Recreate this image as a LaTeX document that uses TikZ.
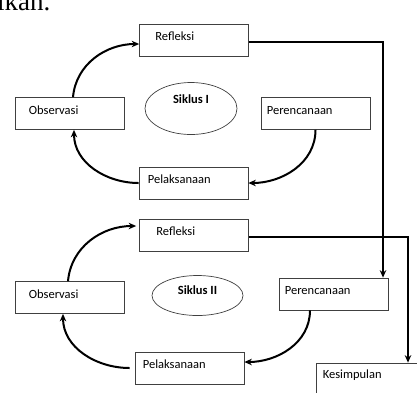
\documentclass[tikz,border=0pt]{standalone}
\usepackage{fontspec}
\setmainfont{Carlito}
\newfontfamily\serifpart{Liberation Serif}
\usetikzlibrary{positioning,shapes.geometric,arrows.meta}

\begin{document}
\begin{tikzpicture}[x=1pt, y=-1pt, font=\fontsize{12.5}{14}\selectfont]
    % Define styles
    \tikzstyle{box}=[rectangle, draw=black!75, line width=0.7pt, minimum width=109pt, minimum height=32pt, inner sep=0pt]
    \tikzstyle{txt}=[anchor=west, inner sep=0pt, text height=8pt, text depth=2pt, yshift=2.5pt]
    \tikzstyle{oval}=[ellipse, draw=black!75, line width=0.7pt, inner sep=0pt]
    \tikzstyle{arrow}=[-{Stealth[length=7.5pt,width=6.5pt]}, line width=2pt]

    \useasboundingbox (0,0) rectangle (417,392);
    \clip (0,0) rectangle (417,392);

    % Cut-off text above
    \node[font=\serifpart\fontsize{27}{30}\selectfont, anchor=base west, inner sep=0pt] (frag) at (-3,10) {ikan.};

    % Siklus I
    \node[box, label={[txt, xshift=16pt]west:Refleksi}] (ref1) at (194,40) {};
    \node[box, label={[txt, xshift=14pt]west:Observasi}] (obs1) at (69.5,113.5) {};
    \node[box, label={[txt, xshift=6pt]west:Perencanaan}] (per1) at (315.5,113.5) {};
    \node[box, label={[txt, xshift=9pt]west:Pelaksanaan}] (pel1) at (193.5,183) {};
    \node[oval, minimum width=92pt, minimum height=52pt, label={[yshift=9.5pt]center:\textbf{Siklus I}}] (sik1) at (191,108.5) {};

    % Siklus II
    \node[box, label={[txt, xshift=17pt]west:Refleksi}] (ref2) at (194,235) {};
    \node[box, label={[txt, xshift=14pt]west:Observasi}] (obs2) at (69.5,297.5) {};
    \node[box, label={[txt, xshift=6pt]west:Perencanaan}] (per2) at (333.5,294) {};
    \node[box, label={[txt, xshift=8pt]west:Pelaksanaan}] (pel2) at (189.5,368) {};
    \node[oval, minimum width=91pt, minimum height=40pt, label={[yshift=5.5pt]center:\textbf{Siklus II}}] (sik2) at (197.5,295.5) {};

    % Conclusion
    \node[box, minimum width=110pt, minimum height=38pt, label={[txt, xshift=7pt, yshift=4.5pt]west:Kesimpulan}] (kes) at (371,382) {};

    % Connections
    \draw[arrow] ([xshift=3.5pt]obs1.north) to[out=85, in=180] ([yshift=-4pt]ref1.west);
    \draw[arrow] (pel1.west) to[out=180, in=-90] ([xshift=4.5pt]obs1.south);
    \draw[arrow] (per1.south) to[out=-90, in=0] (pel1.east);
    \draw[arrow] ([yshift=-2pt]ref1.east) -| ([xshift=49.5pt]per2.north);

    \draw[arrow] ([xshift=-1.5pt]obs2.north) to[out=85, in=180] ([xshift=-3pt, yshift=9pt]ref2.west);
    \draw[arrow] ([xshift=-5pt]pel2.west) to[out=180, in=-90] ([xshift=-6.5pt]obs2.south);
    \draw[arrow] ([xshift=-23.5pt]per2.south) to[out=-90, in=0] ([yshift=6pt]pel2.east);
    \draw[arrow] ([yshift=-2pt]ref2.east) -| ([xshift=37pt]kes.north);
\end{tikzpicture}
\end{document}
